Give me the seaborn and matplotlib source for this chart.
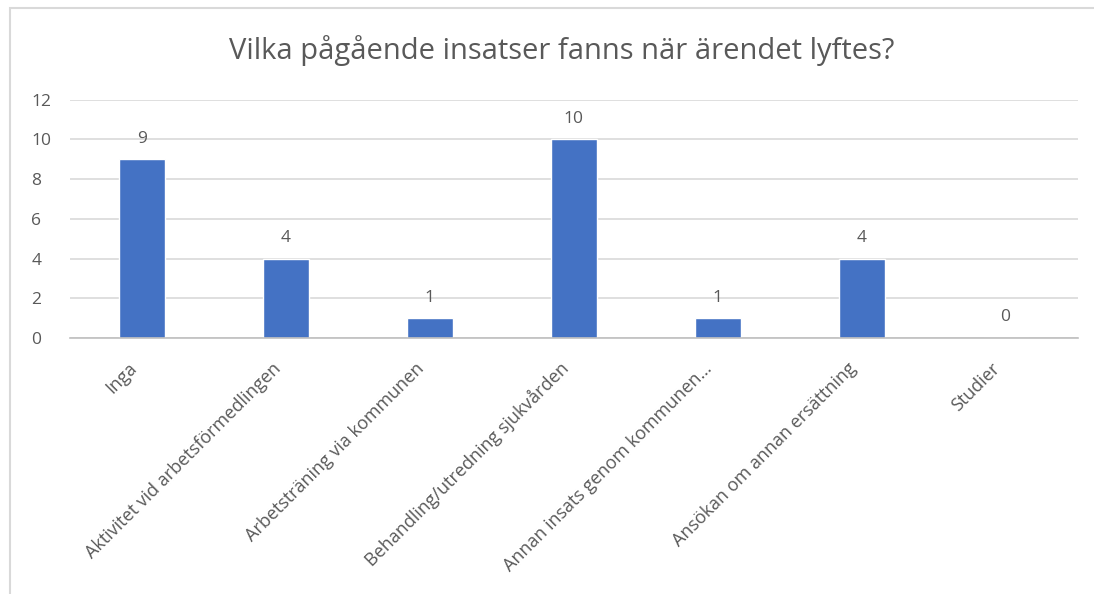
import matplotlib
matplotlib.use("Agg")
import matplotlib.pyplot as plt
import matplotlib.transforms as mtransforms
import seaborn as sns
import pandas as pd
from matplotlib.patches import Rectangle

# ------ DATA ------ #

categories = [
    "Inga",
    "Aktivitet vid arbetsförmedlingen",
    "Arbetsträning via kommunen",
    "Behandling/utredning sjukvården",
    "Annan insats genom kommunen…",
    "Ansökan om annan ersättning",
    "Studier",
]
counts = [9, 4, 1, 10, 1, 4, 0]
y_ticks = [0, 2, 4, 6, 8, 10, 12]

title = "Vilka pågående insatser fanns när ärendet lyftes?"

BAR_COLOR = "#4472C4"
TEXT_COLOR = "#595959"
GRID_COLOR = "#D9D9D9"

df = pd.DataFrame({"insats": categories, "antal": counts})

# ------ STYLE ------ #

sns.set_theme(style="white")
plt.rcParams["font.family"] = ["Open Sans", "DejaVu Sans"]

fig = plt.figure(figsize=(10.94, 5.94), dpi=100)
ax = fig.add_axes([0.064, 0.431, 0.921, 0.401])

# ------ PLOT ------ #

sns.barplot(data=df, x="insats", y="antal", color=BAR_COLOR, width=0.32,
            saturation=1, ax=ax)

ax.bar_label(ax.containers[0], padding=9, fontsize=12.5, color=TEXT_COLOR)

ax.set_ylim(0, 12)
ax.set_yticks(y_ticks)
ax.set_xlim(-0.5, len(categories) - 0.5)
ax.yaxis.grid(True, color=GRID_COLOR, linewidth=1.2)
ax.set_axisbelow(True)

for side in ["top", "right", "left"]:
    ax.spines[side].set_visible(False)
ax.spines["bottom"].set_color("#BFBFBF")
ax.spines["bottom"].set_linewidth(1.2)

ax.set_xlabel("")
ax.set_ylabel("")
ax.tick_params(axis="y", length=0, pad=28, labelsize=12.5, colors=TEXT_COLOR)
ax.tick_params(axis="x", length=0, pad=20, labelsize=13, colors=TEXT_COLOR)
shift = mtransforms.ScaledTranslation(-8 / 100, 0, fig.dpi_scale_trans)
for lbl in ax.get_xticklabels():
    lbl.set_rotation(45)
    lbl.set_ha("right")
    lbl.set_va("center")
    lbl.set_rotation_mode("anchor")
    lbl.set_transform(lbl.get_transform() + shift)
for lbl in ax.get_yticklabels():
    lbl.set_horizontalalignment("left")

fig.text(0.513, 0.915, title, ha="center", va="center", fontsize=21,
         color=TEXT_COLOR, fontfamily=["Open Sans", "DejaVu Sans"])

# chart frame
fig.patches.append(Rectangle((0.009, -0.01), 1.0, 0.997, transform=fig.transFigure,
                             fill=False, edgecolor=GRID_COLOR, linewidth=1.5))

# ------ SAVE ------ #

fig.savefig("out.png", dpi=100)
